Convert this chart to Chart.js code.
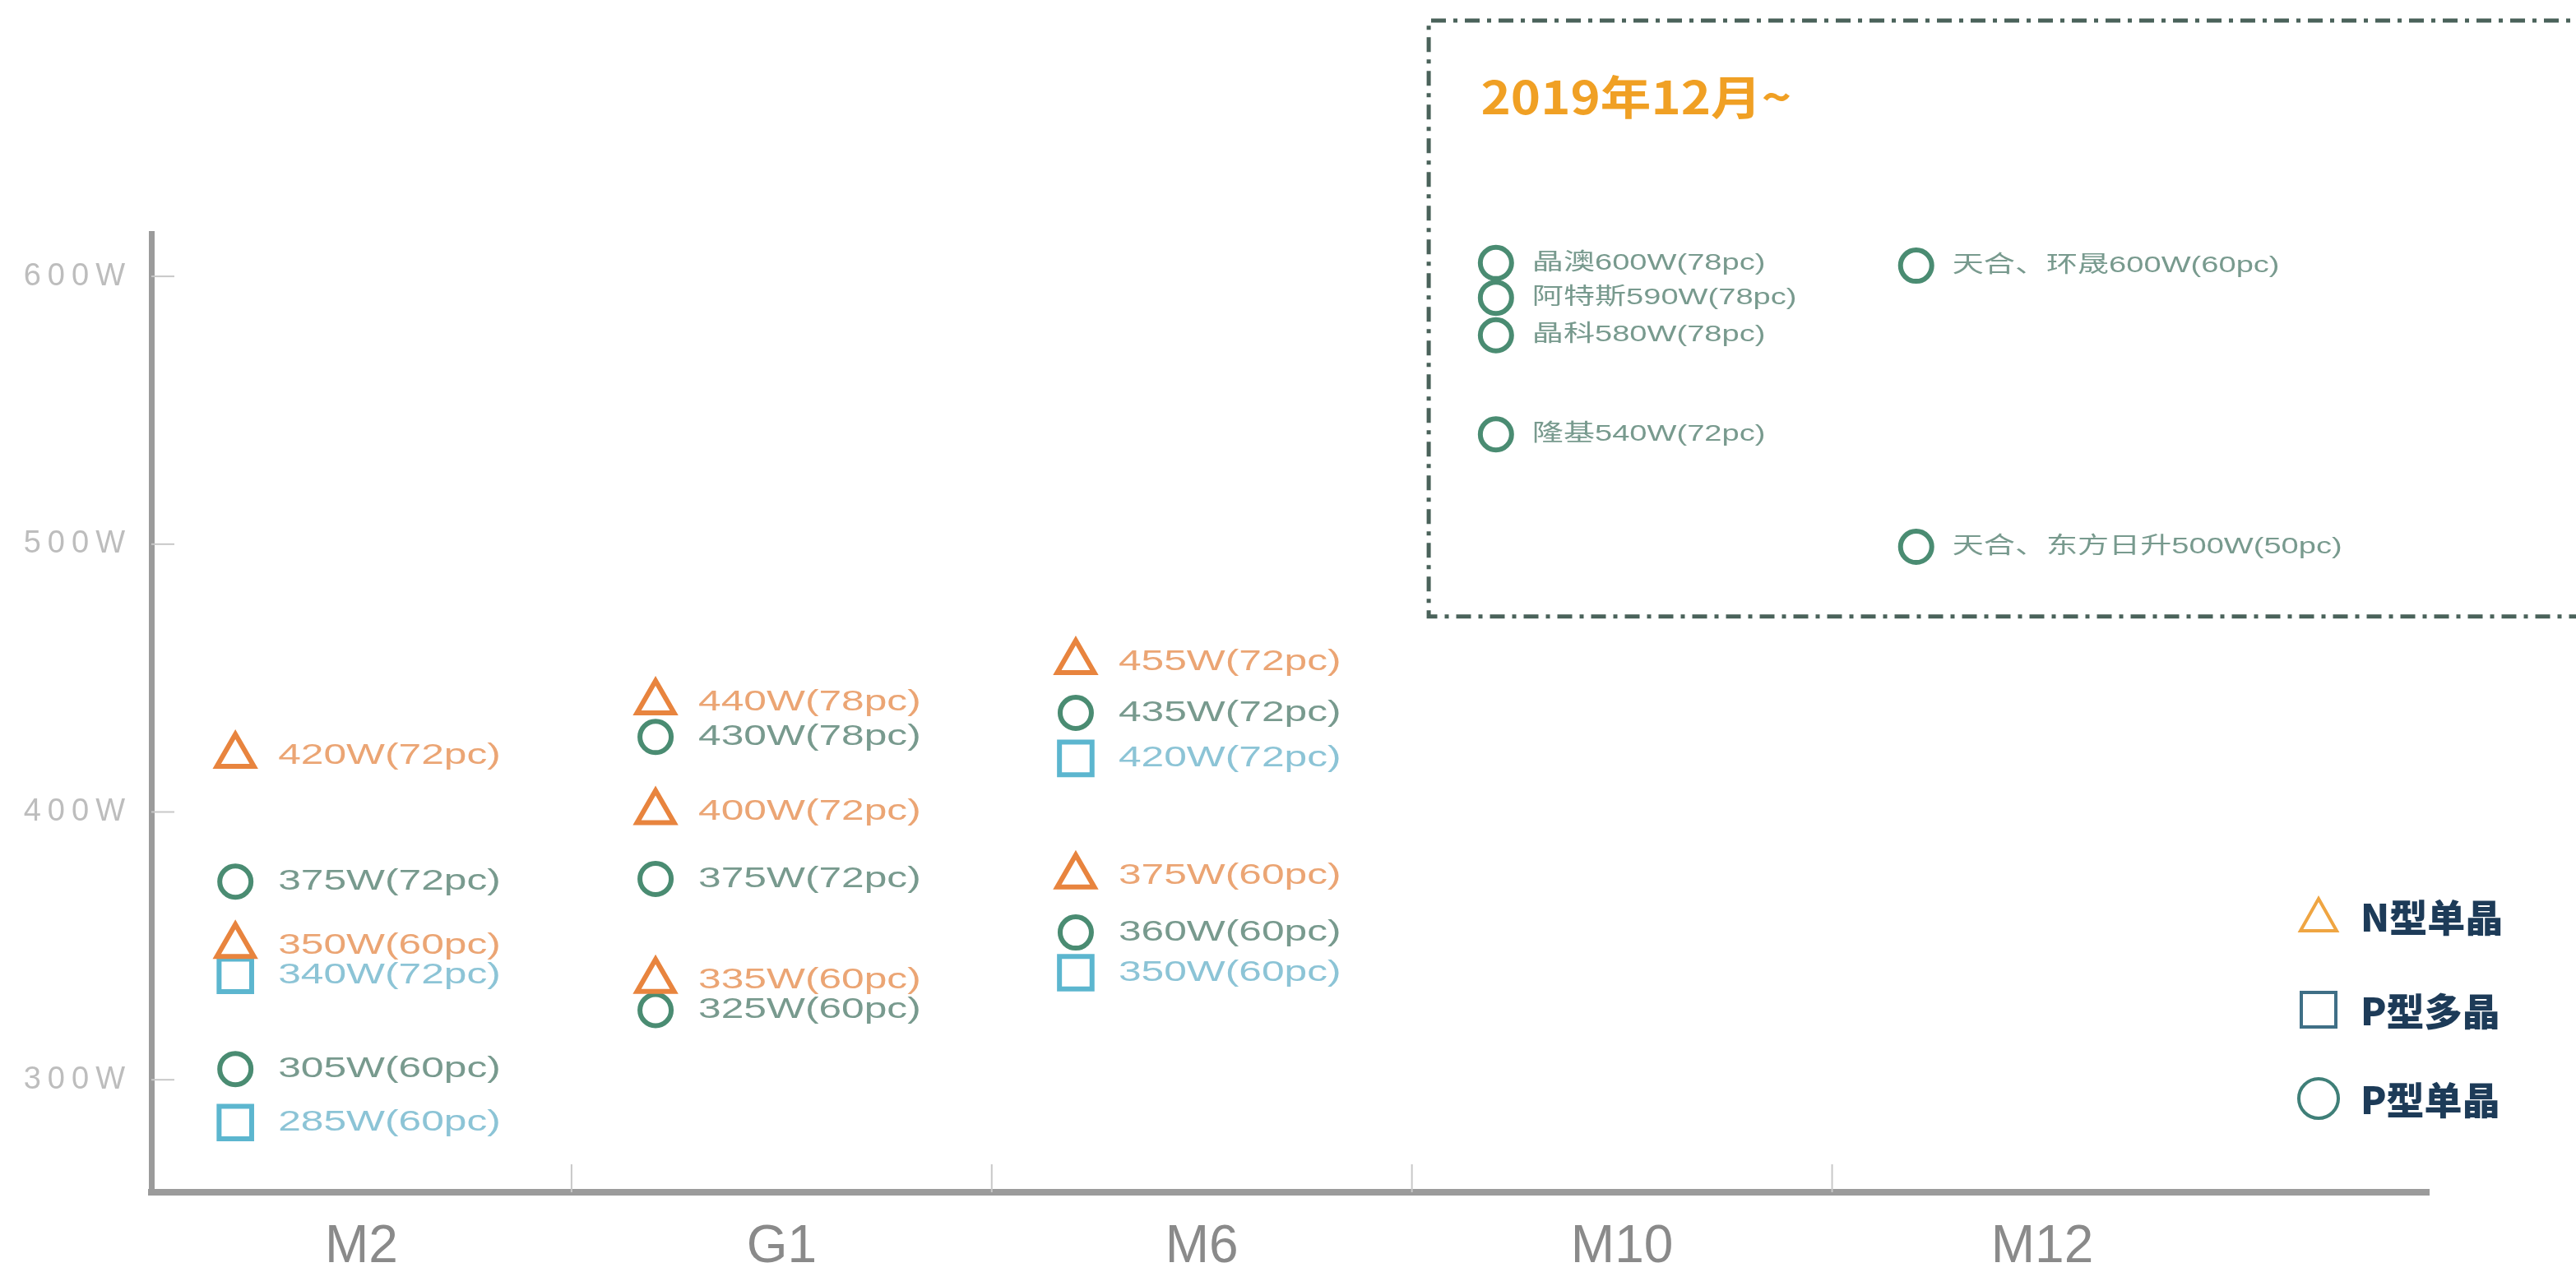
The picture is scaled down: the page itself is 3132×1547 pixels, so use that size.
<!DOCTYPE html>
<html>
<head>
<meta charset="utf-8">
<script src="https://cdn.jsdelivr.net/npm/chart.js@4.4.0/dist/chart.umd.min.js"></script>
<style>
  html, body { margin: 0; padding: 0; background: #fff; }
</style>
</head>
<body>
<canvas id="waferChart" width="3132" height="1547"></canvas>
<script>
const categories = ['M2', 'G1', 'M6', 'M10', 'M12'];
const yTicks = [300, 400, 500, 600];
const seriesNames = ['N型单晶', 'P型多晶', 'P型单晶'];
const boxTitle = '2019年12月~';

// N型单晶
const nMonoCat = ['M2', 'M2', 'G1', 'G1', 'G1', 'M6', 'M6'];
const nMonoWatt = [421, 350, 441, 400, 337, 456, 376];
const nMonoText = ['420W(72pc)', '350W(60pc)', '440W(78pc)', '400W(72pc)', '335W(60pc)', '455W(72pc)', '375W(60pc)'];

// P型多晶
const pPolyCat = ['M2', 'M2', 'M6', 'M6'];
const pPolyWatt = [339, 284, 420, 340];
const pPolyText = ['340W(72pc)', '285W(60pc)', '420W(72pc)', '350W(60pc)'];

// P型单晶
const pMonoCat = ['M2', 'M2', 'G1', 'G1', 'G1', 'M6', 'M6', 'M10', 'M10', 'M10', 'M10', 'M12', 'M12'];
const pMonoWatt = [374, 304, 428, 375, 326, 437, 355, 605, 592, 578, 541, 604, 499];
const pMonoText = ['375W(72pc)', '305W(60pc)', '430W(78pc)', '375W(72pc)', '325W(60pc)', '435W(72pc)', '360W(60pc)',
    '晶澳600W(78pc)', '阿特斯590W(78pc)', '晶科580W(78pc)', '隆基540W(72pc)',
    '天合、环晟600W(60pc)', '天合、东方日升500W(50pc)'];

const markerColors = ['#e8843e', '#5cb6cf', '#4a8c72'];
const textColors = ['#eba574', '#8cc4d6', '#789a8e'];
const legendColors = ['#efa542', '#3f6f86', '#3f7f78'];
const texts = [nMonoText, pPolyText, pMonoText];

function toPoints(cats, watts) {
    // markers sit a little left of each category centre
    return cats.map((c, i) => ({ x: categories.indexOf(c) + 0.2, y: watts[i] }));
}

function line(ctx, x1, y1, x2, y2) {
    ctx.beginPath();
    ctx.moveTo(x1, y1);
    ctx.lineTo(x2, y2);
    ctx.stroke();
}

function stretchedText(ctx, text, px, py, font, color, sx) {
    ctx.save();
    ctx.translate(px, py);
    ctx.scale(sx, 1);
    ctx.font = font;
    ctx.fillStyle = color;
    ctx.textAlign = 'left';
    ctx.textBaseline = 'middle';
    ctx.fillText(text, 0, 0);
    ctx.restore();
}

const decorPlugin = {
    id: 'decor',
    beforeDraw(chart) {
        // y tick labels in the picture are wide
        chart.ctx.letterSpacing = '8px';
    },
    beforeDatasetsDraw(chart) {
        const { ctx, chartArea: a, scales: { x, y } } = chart;
        ctx.letterSpacing = '0px';
        ctx.save();
        ctx.strokeStyle = '#c8c8c8';
        ctx.lineWidth = 2;
        y.ticks.forEach(t => {
            const py = y.getPixelForValue(t.value);
            line(ctx, a.left, py, a.left + 28, py);
        });
        [1, 2, 3, 4].forEach(b => {
            const px = x.getPixelForValue(b);
            line(ctx, px, a.bottom - 34, px, a.bottom);
        });

        // dashed frame for the 2019-12 products
        const left = x.getPixelForValue(3.04);
        const top = y.getPixelForValue(695.5);
        const bottom = y.getPixelForValue(473);
        ctx.strokeStyle = '#4a625a';
        ctx.lineWidth = 5;
        ctx.setLineDash([18, 9, 5, 9]);
        ctx.beginPath();
        ctx.moveTo(chart.width + 20, top);
        ctx.lineTo(left, top);
        ctx.lineTo(left, bottom);
        ctx.lineTo(chart.width + 20, bottom);
        ctx.stroke();
        ctx.setLineDash([]);

        stretchedText(ctx, boxTitle, x.getPixelForValue(3.164), y.getPixelForValue(667),
            'bold 56px "Noto Sans CJK SC", sans-serif', '#f0a024', 1.1);
        ctx.restore();
    },
    afterDatasetsDraw(chart) {
        const ctx = chart.ctx;
        for (let d = chart.data.datasets.length - 1; d >= 0; d--) {
            const meta = chart.getDatasetMeta(d);
            meta.data.forEach((el, i) => {
                const raw = chart.data.datasets[d].data[i];
                const inBox = raw.x > 3;
                const font = (inBox ? 28 : 35) + 'px "Liberation Sans", "Noto Sans CJK SC", sans-serif';
                stretchedText(ctx, texts[d][i], el.x + (inBox ? 44 : 52), el.y, font, textColors[d], inBox ? 1.36 : 1.42);
            });
        }
    },
    afterDraw(chart) {
        const ctx = chart.ctx;
        const a = chart.chartArea;
        const mx = a.right - 134;
        const rows = [a.bottom - 336, a.bottom - 222, a.bottom - 114];
        ctx.save();
        ctx.lineWidth = 4;
        rows.forEach((ry, i) => {
            ctx.strokeStyle = legendColors[i];
            ctx.beginPath();
            if (i === 0) {
                ctx.moveTo(mx, ry - 21);
                ctx.lineTo(mx + 22, ry + 18);
                ctx.lineTo(mx - 22, ry + 18);
                ctx.closePath();
            } else if (i === 1) {
                ctx.rect(mx - 21, ry - 21, 42, 42);
            } else {
                ctx.arc(mx, ry, 24, 0, Math.PI * 2);
            }
            ctx.stroke();
            ctx.font = '900 46px "Noto Sans CJK SC", sans-serif';
            ctx.fillStyle = '#1d3b58';
            ctx.textAlign = 'left';
            ctx.textBaseline = 'middle';
            ctx.fillText(seriesNames[i], mx + 51, ry + 2);
        });
        ctx.restore();
    }
};

const datasets = [
    { label: seriesNames[0], data: toPoints(nMonoCat, nMonoWatt), pointStyle: 'triangle', pointRadius: 26 },
    { label: seriesNames[1], data: toPoints(pPolyCat, pPolyWatt), pointStyle: 'rect', pointRadius: 28 },
    { label: seriesNames[2], data: toPoints(pMonoCat, pMonoWatt), pointStyle: 'circle', pointRadius: 19 }
].map((ds, i) => Object.assign(ds, {
    borderColor: markerColors[i],
    backgroundColor: 'rgba(255,255,255,0)',
    pointBorderWidth: 6,
    borderWidth: 6,
    showLine: false,
    clip: false
}));

new Chart(document.getElementById('waferChart').getContext('2d'), {
    type: 'scatter',
    data: { datasets: datasets },
    options: {
        responsive: false,
        animation: false,
        events: [],
        devicePixelRatio: 1,
        layout: { padding: { top: 284, right: 179, left: 0, bottom: 0 } },
        plugins: {
            legend: { display: false },
            tooltip: { enabled: false }
        },
        scales: {
            x: {
                type: 'linear',
                min: 0,
                max: 5.42,
                afterBuildTicks: axis => { axis.ticks = categories.map((c, i) => ({ value: i + 0.5 })); },
                afterFit: axis => { axis.height = 97; },
                grid: { display: false, drawTicks: false },
                border: { color: '#9b9b9b', width: 8 },
                ticks: {
                    z: 1,
                    autoSkip: false,
                    maxRotation: 0,
                    padding: 29,
                    color: '#8a8a8a',
                    font: { family: '"Liberation Sans", Arial, sans-serif', size: 64 },
                    callback: v => categories[Math.round(v - 0.5)]
                }
            },
            y: {
                min: 258,
                max: 616,
                afterBuildTicks: axis => { axis.ticks = yTicks.map(v => ({ value: v })); },
                afterFit: axis => { axis.width = 184; },
                grid: { display: false, drawTicks: false },
                border: { color: '#9b9b9b', width: 7 },
                ticks: {
                    padding: 24,
                    color: '#bdbdbd',
                    font: { family: '"Liberation Sans", Arial, sans-serif', size: 38 },
                    callback: v => v + 'W'
                }
            }
        }
    },
    plugins: [decorPlugin]
});
</script>
</body>
</html>
